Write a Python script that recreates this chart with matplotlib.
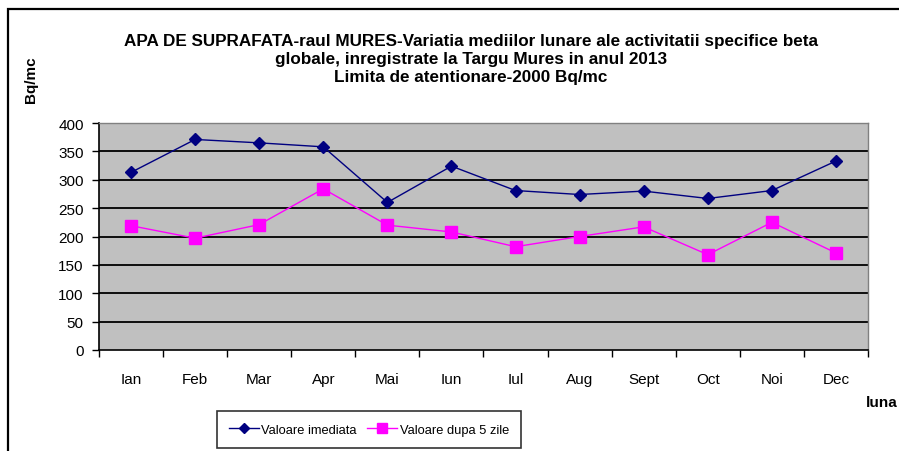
import matplotlib
matplotlib.use("Agg")
import matplotlib.pyplot as plt
from matplotlib.patches import Rectangle
from matplotlib.lines import Line2D

plt.rcParams['font.family'] = ['Liberation Sans', 'DejaVu Sans']

months = ["Ian", "Feb", "Mar", "Apr", "Mai", "Iun", "Iul", "Aug", "Sept", "Oct", "Noi", "Dec"]
valoare_imediata = [313, 371, 365, 358, 260, 324, 281, 274, 280, 267, 281, 333]
valoare_dupa_5_zile = [219, 197, 221, 284, 220, 208, 182, 200, 217, 168, 225, 171]
y_ticks = [0, 50, 100, 150, 200, 250, 300, 350, 400]

W, H = 899, 452
fig = plt.figure(figsize=(W / 100, H / 100), dpi=100)
fig.patch.set_facecolor("white")

# outer chart frame (runs off the right and bottom edges)
fig.patches.append(Rectangle((8 / W, -0.05), 1.2, 1 - 10 / H + 0.05,
                             transform=fig.transFigure, fill=False,
                             edgecolor="black", linewidth=1.6))

ax = fig.add_axes([99 / W, 1 - 351 / H, (868 - 99) / W, (351 - 124) / H])
ax.set_facecolor("#c0c0c0")
x = list(range(len(months)))

ax.set_xlim(-0.5, len(months) - 0.5)
ax.set_ylim(0, 400)
ax.set_yticks(y_ticks)
for t in y_ticks[1:-1]:
    ax.axhline(t, color="black", linewidth=1.3, zorder=1)

ax.plot(x, valoare_imediata, color="#000080", linewidth=1.0, marker="D",
        markersize=6.5, markerfacecolor="#000080", markeredgecolor="#000080",
        zorder=3, label="Valoare imediata")
ax.plot(x, valoare_dupa_5_zile, color="#ff00ff", linewidth=1.0, marker="s",
        markersize=9, markerfacecolor="#ff00ff", markeredgecolor="#ff00ff",
        zorder=3, label="Valoare dupa 5 zile")

# category boundary ticks on x, month names centred between them
ax.set_xticks([i - 0.5 for i in range(len(months) + 1)])
ax.set_xticklabels([])
ax.set_xticks(x, minor=True)
ax.set_xticklabels(months, minor=True, fontsize=11)
ax.tick_params(axis="x", which="major", length=5, width=1, direction="out", color="black")
ax.tick_params(axis="x", which="minor", length=0, pad=16)
ax.tick_params(axis="y", length=5, width=1, direction="out", labelsize=11, pad=6)

for side in ("top", "right"):
    ax.spines[side].set_color("#808080")
    ax.spines[side].set_linewidth(1.0)
for side in ("left", "bottom"):
    ax.spines[side].set_color("black")
    ax.spines[side].set_linewidth(1.2)

fig.text(471 / W, 1 - 59.5 / H,
         "APA DE SUPRAFATA-raul MURES-Variatia mediilor lunare ale activitatii specifice beta\n"
         "globale, inregistrate la Targu Mures in anul 2013\n"
         "Limita de atentionare-2000 Bq/mc",
         ha="center", va="center", fontsize=12.3, fontweight="bold", linespacing=1.24)

fig.text(31 / W, 1 - 80 / H, "Bq/mc", rotation=90, ha="center", va="center",
         fontsize=11, fontweight="bold")
fig.text(866 / W, 1 - 403 / H, "luna", ha="left", va="center",
         fontsize=11, fontweight="bold")

handles = [
    Line2D([], [], color="#000080", linewidth=1.0, marker="D", markersize=5,
           markerfacecolor="#000080", markeredgecolor="#000080"),
    Line2D([], [], color="#ff00ff", linewidth=1.0, marker="s", markersize=7,
           markerfacecolor="#ff00ff", markeredgecolor="#ff00ff"),
]
leg = fig.legend(handles, ["Valoare imediata", "Valoare dupa 5 zile"],
                 loc="center", bbox_to_anchor=(369 / W, 1 - 430.5 / H),
                 ncol=2, frameon=True, fancybox=False, fontsize=9.3,
                 handlelength=2.3, handletextpad=0.2, columnspacing=0.8,
                 borderpad=0.95, borderaxespad=0)
leg.get_frame().set_edgecolor("black")
leg.get_frame().set_linewidth(1.2)

fig.savefig("out.png", dpi=100)
